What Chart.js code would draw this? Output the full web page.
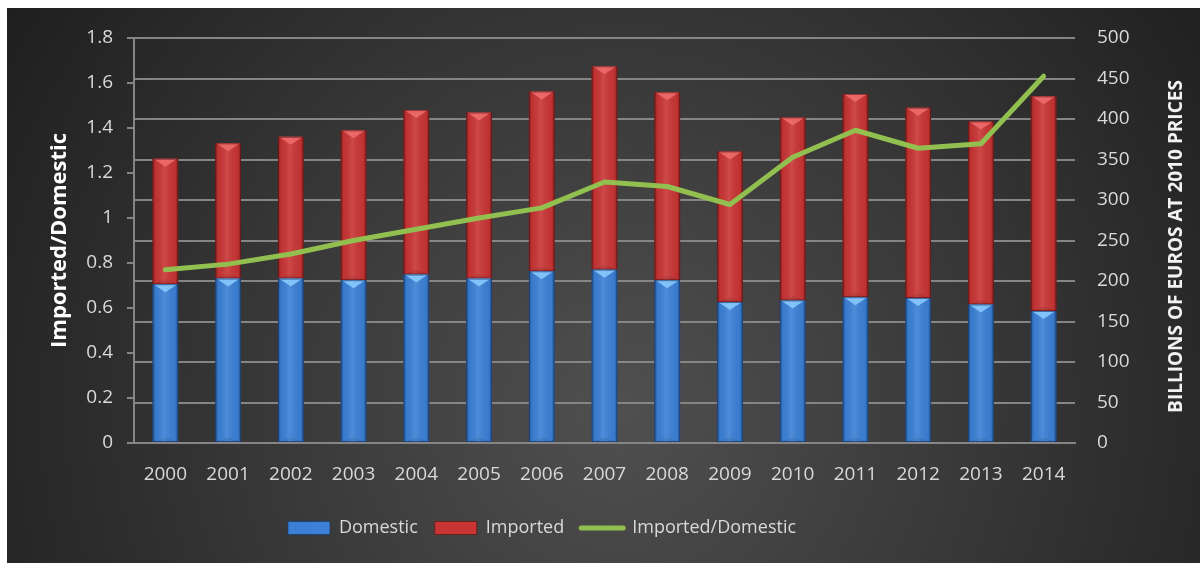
<!DOCTYPE html>
<html>
<head>
<meta charset="utf-8">
<title>Domestic and imported</title>
<script src="https://cdn.jsdelivr.net/npm/chart.js@4.4.1/dist/chart.umd.min.js"></script>
<style>
  html, body { margin: 0; padding: 0; background: #fff; }
</style>
</head>
<body>
<canvas id="chart" width="1200" height="563"></canvas>
<script>
// years on the category axis
const years = ['2000', '2001', '2002', '2003', '2004', '2005', '2006', '2007',
               '2008', '2009', '2010', '2011', '2012', '2013', '2014'];

// billions of euros at 2010 prices (right axis, stacked)
const domestic = [196, 203, 203, 201, 208, 203, 212, 214, 201, 174, 176, 180, 179, 171, 163];
const imported = [155, 167, 175, 185, 203, 205, 222, 251, 232, 186, 226, 251, 235, 226, 265];

// imported / domestic ratio (left axis)
const ratio = [0.77, 0.795, 0.84, 0.90, 0.95, 1.0, 1.045, 1.16, 1.14, 1.06, 1.27, 1.39, 1.31, 1.33, 1.63];

// axis ranges
const ratioMin = 0, ratioMax = 1.8, ratioStep = 0.2;
const euroMin = 0, euroMax = 500, euroStep = 50;

const labelColor = '#d9d9d9';
const lineGrey = '#858585';
Chart.defaults.font.family = "'Open Sans', sans-serif";

// colours used for the bevel on each bar series
const shade = {
  Domestic: { top: 'rgba(140, 205, 255, 0.85)', edge: 'rgba(20, 50, 100, 0.6)' },
  Imported: { top: 'rgba(240, 110, 110, 0.85)', edge: 'rgba(90, 15, 15, 0.6)' }
};

// dark radial backdrop behind the whole chart
const backdrop = {
  id: 'backdrop',
  beforeDraw(chart) {
    const ctx = chart.ctx;
    ctx.save();
    ctx.fillStyle = '#ffffff';
    ctx.fillRect(0, 0, chart.width, chart.height);
    const g = ctx.createRadialGradient(620, 410, 10, 620, 410, 730);
    g.addColorStop(0, '#4f4f4f');
    g.addColorStop(1, '#1f1f1f');
    ctx.fillStyle = g;
    ctx.fillRect(7, 8, chart.width - 7, chart.height - 8);
    ctx.restore();
  },
  afterLayout(chart) {
    // legend sits a little left of centre
    chart.legend.left -= 58;
    chart.legend.right -= 58;
  }
};

// shading + top bevel on each bar segment
const bevel = {
  id: 'bevel',
  afterDatasetDraw(chart, args) {
    const meta = args.meta;
    if (meta.type !== 'bar') return;
    const s = shade[chart.data.datasets[args.index].label];
    const ctx = chart.ctx;
    meta.data.forEach(bar => {
      const { x, y, base, width } = bar.getProps(['x', 'y', 'base', 'width'], true);
      const l = x - width / 2, r = x + width / 2;
      const top = Math.min(y, base), bot = Math.max(y, base);
      const h = bot - top;
      if (h < 1) return;
      ctx.save();
      const g = ctx.createLinearGradient(l, 0, r, 0);
      g.addColorStop(0, 'rgba(0,0,0,0.35)');
      g.addColorStop(0.12, 'rgba(0,0,0,0.04)');
      g.addColorStop(0.45, 'rgba(255,255,255,0.10)');
      g.addColorStop(0.88, 'rgba(0,0,0,0.04)');
      g.addColorStop(1, 'rgba(0,0,0,0.35)');
      ctx.fillStyle = g;
      ctx.fillRect(l, top, width, h);
      const b = Math.min(8, h / 2);
      ctx.beginPath();
      ctx.moveTo(l + 1, top);
      ctx.lineTo(r - 1, top);
      ctx.lineTo(x, top + b);
      ctx.closePath();
      ctx.fillStyle = s.top;
      ctx.fill();
      ctx.beginPath();
      ctx.moveTo(l, bot);
      ctx.lineTo(r, bot);
      ctx.lineTo(x, bot - b * 0.6);
      ctx.closePath();
      ctx.fillStyle = 'rgba(0,0,0,0.08)';
      ctx.fill();
      ctx.strokeStyle = s.edge;
      ctx.lineWidth = 1;
      ctx.strokeRect(l + 0.5, top + 0.5, width - 1, h - 1);
      ctx.restore();
    });
  }
};

// right axis title reads bottom to top
const rightTitle = {
  id: 'rightTitle',
  afterDraw(chart) {
    const ctx = chart.ctx;
    const a = chart.chartArea;
    ctx.save();
    ctx.translate(1177, (a.top + a.bottom) / 2 + 6);
    ctx.rotate(-Math.PI / 2);
    ctx.textAlign = 'center';
    ctx.textBaseline = 'middle';
    ctx.font = "bold 19px 'Open Sans', sans-serif";
    ctx.fillStyle = '#f2f2f2';
    ctx.fillText('BILLIONS OF EUROS AT 2010 PRICES', 0, 0);
    ctx.restore();
  }
};

new Chart(document.getElementById('chart'), {
  type: 'bar',
  data: {
    labels: years,
    datasets: [
      {
        label: 'Domestic',
        data: domestic,
        backgroundColor: '#3b80d6',
        borderWidth: 0,
        yAxisID: 'y1',
        order: 1,
        barPercentage: 0.41,
        categoryPercentage: 1
      },
      {
        label: 'Imported',
        data: imported,
        backgroundColor: '#c93535',
        borderWidth: 0,
        yAxisID: 'y1',
        order: 1,
        barPercentage: 0.41,
        categoryPercentage: 1
      },
      {
        type: 'line',
        label: 'Imported/Domestic',
        data: ratio,
        borderColor: '#92c050',
        backgroundColor: '#92c050',
        borderWidth: 5,
        borderCapStyle: 'round',
        borderJoinStyle: 'round',
        pointRadius: 0,
        tension: 0,
        yAxisID: 'y',
        order: 0
      }
    ]
  },
  options: {
    responsive: false,
    animation: false,
    devicePixelRatio: 1,
    layout: { padding: { top: 38, left: 0, right: 0, bottom: 16 } },
    plugins: {
      tooltip: { enabled: false },
      legend: {
        position: 'bottom',
        labels: {
          color: labelColor,
          font: { size: 18 },
          usePointStyle: true,
          pointStyleWidth: 42,
          boxHeight: 13,
          padding: 17,
          sort: (a, b) => a.datasetIndex - b.datasetIndex,
          generateLabels(chart) {
            const items = Chart.defaults.plugins.legend.labels.generateLabels(chart);
            items.forEach(it => {
              const ds = chart.data.datasets[it.datasetIndex];
              if (ds.type === 'line') {
                it.pointStyle = 'line';
                it.lineWidth = 5;
                it.lineCap = 'round';
              } else {
                it.pointStyle = 'rect';
                it.lineWidth = 1;
                it.strokeStyle = shade[ds.label].edge;
              }
            });
            return items;
          }
        }
      }
    },
    scales: {
      x: {
        stacked: true,
        grid: { display: false, drawTicks: false },
        border: { display: true, color: lineGrey, width: 2 },
        ticks: { color: labelColor, font: { size: 19 }, padding: 20 },
        afterFit(s) { s.height = 59; }
      },
      y: {
        position: 'left',
        min: ratioMin,
        max: ratioMax,
        ticks: {
          stepSize: ratioStep,
          color: labelColor,
          font: { size: 19 },
          padding: 14,
          callback: v => String(Number(v.toFixed(1)))
        },
        grid: { drawOnChartArea: false, drawTicks: true, tickLength: 7, color: lineGrey, lineWidth: 2 },
        border: { display: true, color: lineGrey, width: 2 },
        title: {
          display: true,
          text: 'Imported/Domestic',
          color: '#ffffff',
          font: { size: 22, weight: 'bold' },
          padding: { top: 47, bottom: 0 }
        },
        afterFit(s) { s.width = 134; }
      },
      y1: {
        position: 'right',
        stacked: true,
        min: euroMin,
        max: euroMax,
        ticks: { stepSize: euroStep, color: labelColor, font: { size: 19 }, padding: 22 },
        grid: { color: lineGrey, lineWidth: 2, drawTicks: false },
        border: { display: false },
        afterFit(s) { s.width = 125; }
      }
    }
  },
  plugins: [backdrop, bevel, rightTitle]
});
</script>
</body>
</html>
